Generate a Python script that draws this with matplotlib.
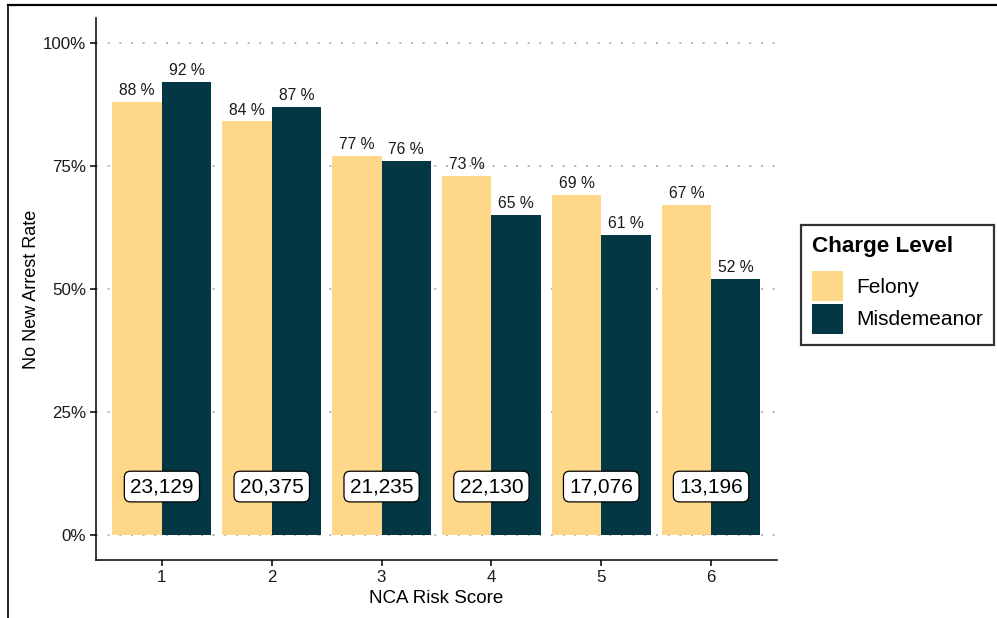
import matplotlib.pyplot as plt
import matplotlib.lines as mlines
import numpy as np

plt.rcParams['font.family'] = ['Liberation Sans', 'DejaVu Sans']

scores = [1, 2, 3, 4, 5, 6]
felony = [0.88, 0.84, 0.77, 0.73, 0.69, 0.67]
misdemeanor = [0.92, 0.87, 0.76, 0.65, 0.61, 0.52]
counts = ['23,129', '20,375', '21,235', '22,130', '17,076', '13,196']
yticks = [0, 0.25, 0.5, 0.75, 1.0]
ytick_labels = ['0%', '25%', '50%', '75%', '100%']

col_fel = '#FED789'
col_mis = '#023743'

fig = plt.figure(figsize=(9.97, 6.18), dpi=100)
ax = fig.add_axes([0.0963, 0.0939, 0.683, 0.877])

x = np.array(scores)
w = 0.45
ax.bar(x - w / 2, felony, width=w, color=col_fel, label='Felony', zorder=2)
ax.bar(x + w / 2, misdemeanor, width=w, color=col_mis, label='Misdemeanor', zorder=2)

for xi, v in zip(x, felony):
    ax.text(xi - w / 2, v + 0.008, f'{round(v * 100)} %', ha='center', va='bottom', fontsize=11.3, color='#1a1a1a', zorder=3)
for xi, v in zip(x, misdemeanor):
    ax.text(xi + w / 2, v + 0.008, f'{round(v * 100)} %', ha='center', va='bottom', fontsize=11.3, color='#1a1a1a', zorder=3)
for xi, c in zip(x, counts):
    ax.text(xi, 0.099, c, ha='center', va='center', fontsize=15, color='black', zorder=4,
            bbox=dict(boxstyle='round,pad=0.28,rounding_size=0.3', fc='white', ec='black', lw=0.9))

ax.set_xlim(0.4, 6.6)
ax.set_ylim(-0.05, 1.05)
ax.set_xticks(scores)
ax.set_xticklabels([str(s) for s in scores])
ax.set_yticks(yticks)
ax.set_yticklabels(ytick_labels)
ax.yaxis.grid(True, linestyle=(0, (1, 5)), color='#b3b3b3', linewidth=1.4, zorder=0)
ax.set_axisbelow(True)
ax.tick_params(axis='both', labelsize=12.2, length=4, width=1.1, color='black', labelcolor='#1a1a1a', pad=3)
for s in ['top', 'right']:
    ax.spines[s].set_visible(False)
for s in ['left', 'bottom']:
    ax.spines[s].set_linewidth(1.1)
ax.set_xlabel('NCA Risk Score', fontsize=13.5, labelpad=4)
ax.set_ylabel('No New Arrest Rate', fontsize=13, labelpad=2)

leg = fig.legend(loc='upper left', bbox_to_anchor=(0.8034, 0.636), title='Charge Level',
                 fontsize=15, title_fontproperties={'weight': 'bold', 'size': 16.2},
                 frameon=True, fancybox=False, edgecolor='black', handlelength=1.45,
                 handleheight=1.85, borderpad=0.55, labelspacing=0.1, handletextpad=0.65,
                 borderaxespad=0.0)
leg._legend_box.align = 'left'
leg._legend_box.sep = 10
leg.get_frame().set_linewidth(1.6)

# outer screenshot border (left and top)
fig.add_artist(mlines.Line2D([8 / 997, 8 / 997], [0, 1 - 5 / 618], color='black', lw=1.2, transform=fig.transFigure))
fig.add_artist(mlines.Line2D([8 / 997, 1], [1 - 5 / 618, 1 - 5 / 618], color='black', lw=1.6, transform=fig.transFigure))

fig.savefig('out.png', dpi=100)
